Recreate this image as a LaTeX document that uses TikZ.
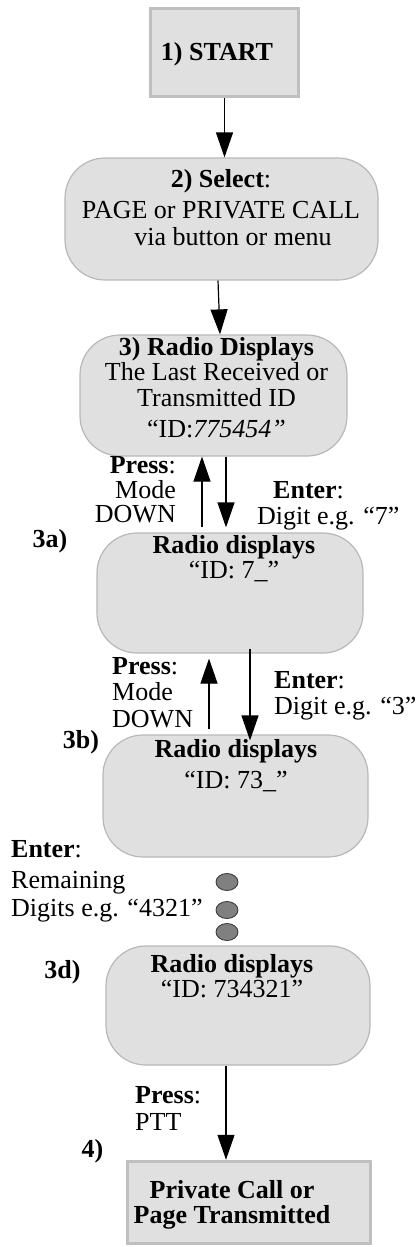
\documentclass[tikz,border=0pt]{standalone}
\usepackage{fontspec}
\setmainfont{Liberation Serif}
\usepackage{tikz}
\usetikzlibrary{shapes.geometric,arrows.meta,positioning}

\begin{document}
\begin{tikzpicture}[
  x=1pt, y=-1pt,
  font=\fontsize{26}{26}\selectfont,
  sq/.style={draw=black!25, fill=black!12, line width=3.5pt, inner sep=0pt},
  rbox/.style={draw=black!28, fill=black!12, line width=1.2pt, rounded corners=40pt, inner sep=0pt},
  txt/.style={inner sep=0pt, align=center, anchor=north},
  lbl/.style={inner sep=0pt, align=left, anchor=north west},
  stp/.style={inner sep=0pt, anchor=base, font=\fontsize{26}{26}\selectfont\bfseries},
  dot/.style={ellipse, draw=black!80, fill=black!50, line width=0.8pt, minimum width=22pt, minimum height=17pt, inner sep=0pt},
  arr/.style={-{Triangle[length=25pt, width=17pt]}, line width=1.2pt},
]
\useasboundingbox (0,0) rectangle (418,1247);

% ─── Boxes (top to bottom) ───
\node[sq, minimum width=148pt, minimum height=88pt] (b1) at (224.5,52.5) {};
\node[rbox, minimum width=313pt, minimum height=122pt] (b2) at (221.5,219) {};
\node[rbox, minimum width=267pt, minimum height=121pt] (b3) at (213.5,395.5) {};
\node[rbox, minimum width=266pt, minimum height=120pt] (b3a) at (230,593) {};
\node[rbox, minimum width=265pt, minimum height=122pt] (b3b) at (235.5,796) {};
\node[rbox, minimum width=264pt, minimum height=119pt] (b3d) at (238,1005.5) {};
\node[sq, minimum width=243pt, minimum height=82pt] (b4) at (249,1202.5) {};

% ─── Box texts ───
\node[txt] (t1) at (217,42) {\strut\textbf{1) START}};
\node[txt] (t2) at (221,169) {\strut\textbf{2) Select}:\\[5pt]PAGE or PRIVATE CALL\\[1pt]\hspace*{24pt}via button or menu};
\node[txt] (t3) at (216.5,337) {\strut\textbf{3) Radio Displays}\\[-1pt]The Last Received or\\Transmitted ID\\[5pt]“ID:\textit{775454”}};
\node[txt] (t3a) at (234,535) {\strut\textbf{Radio displays}\\[-1pt]“ID: 7\_”};
\node[txt] (t3b) at (236,739) {\strut\textbf{Radio displays}\\[5pt]“ID: 73\_”};
\node[txt] (t3d) at (232,954) {\strut\textbf{Radio displays}\\[-1pt]“ID: 734321”};
\node[txt] (t4) at (232,1180) {\strut\textbf{Private Call or}\\[-1pt]\textbf{Page Transmitted}};

% ─── Step numbers ───
\node[stp] (n3a) at (50,547) {3a)};
\node[stp] (n3b) at (81,748) {3b)};
\node[stp] (n3d) at (62.5,978) {3d)};
\node[stp] (n4) at (92.5,1157) {4)};

% ─── Key press labels ───
\node[inner sep=0pt, align=right, anchor=north east] (l1) at (176,455) {\strut\textbf{Press}:\\[-1pt]Mode\\[-2pt]DOWN};
\node[lbl] (r1) at (257,480) {\strut\hspace*{16pt}\textbf{Enter}:\\Digit e.g. “7”};
\node[lbl] (l2) at (112,656) {\strut\textbf{Press}:\\Mode\\[1pt]DOWN};
\node[lbl] (r2) at (274,670) {\strut\textbf{Enter}:\\Digit e.g. “3”};
\node[lbl] (l3) at (11,839) {\strut\textbf{Enter}:\\[5pt]Remaining\\[2pt]Digits e.g. “4321”};
\node[lbl] (l4) at (135,1085) {\strut\textbf{Press}:\\[1pt]PTT};

% ─── Skipped digits ───
\node[dot] (d1) at (227,882) {};
\node[dot] (d2) at (227,910) {};
\node[dot] (d3) at (227,932) {};

% ─── Arrows ───
\coordinate (cu1) at (202,0);
\coordinate (cd1) at (226,0);
\coordinate (cu2) at (209,0);
\coordinate (cd2) at (250,0);

\draw[arr] (b1.south) -- (b1.south |- b2.north);
\draw[arr] ([xshift=-3.5pt]b2.south) -- ([xshift=6.5pt]b3.north);
\draw[arr, shorten <=5pt] (b3a.north -| cu1) -- (b3.south -| cu1);
\draw[arr, shorten >=5pt] (b3.south -| cd1) -- (b3a.north -| cd1);
\draw[arr, shorten <=5pt, shorten >=5pt] (b3b.north -| cu2) -- (b3a.south -| cu2);
\draw[arr, shorten <=-5pt, shorten >=-6pt] (b3a.south -| cd2) -- (b3b.north -| cd2);
\draw[arr] (b3d.south -| cd1) -- (b4.north -| cd1);

\end{tikzpicture}
\end{document}
